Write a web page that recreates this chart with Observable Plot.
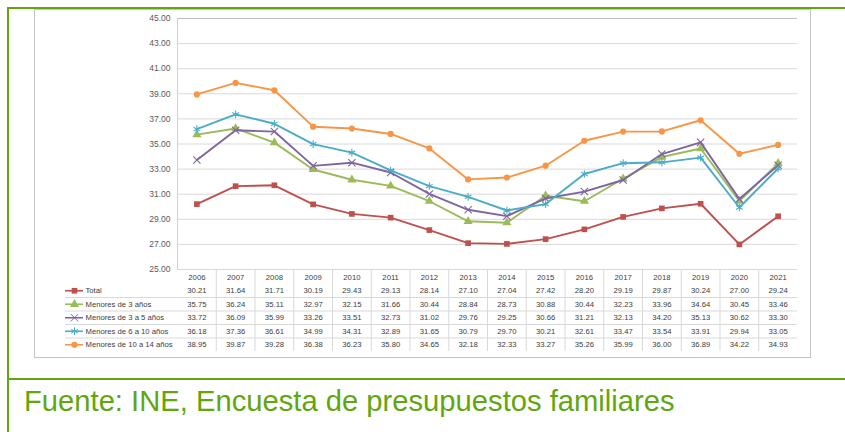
<!DOCTYPE html>
<html>
<head>
<meta charset="utf-8">
<script src="https://cdn.jsdelivr.net/npm/d3@7"></script>
<script src="https://cdn.jsdelivr.net/npm/@observablehq/plot@0.6"></script>
<style>
  html, body { margin: 0; padding: 0; background: #fff; }
  #wrap { position: relative; width: 845px; height: 432px; overflow: hidden; font-family: "Liberation Sans", Arial, sans-serif; }
  .g { position: absolute; background: #62a60f; }
  #box { position: absolute; left: 34px; top: 9px; width: 775px; height: 347px; border: 1px solid #c4c4c4; }
  #chart { position: absolute; left: 0; top: 0; }
  #table { position: absolute; left: 0; top: 269px; }
  #caption { position: absolute; left: 24px; top: 385px; font-size: 29.2px; color: #62a60f; white-space: nowrap; }
</style>
</head>
<body>
<div id="wrap">
  <div id="box"></div>
  <div class="g" style="left:7px;top:7px;width:838px;height:2px"></div>
  <div class="g" style="left:7px;top:7px;width:2px;height:425px"></div>
  <div class="g" style="left:7px;top:378px;width:838px;height:2px"></div>
  <div id="chart"></div>
  <div id="table"></div>
  <div id="caption">Fuente: INE, Encuesta de presupuestos familiares</div>
</div>
<script>
const years = [2006, 2007, 2008, 2009, 2010, 2011, 2012, 2013, 2014, 2015, 2016, 2017, 2018, 2019, 2020, 2021];
const seriesNames = ["Total", "Menores de 3 años", "Menores de 3 a 5 años", "Menores de 6 a 10 años", "Menores de 10 a 14 años"];
const total   = [30.21, 31.64, 31.71, 30.19, 29.43, 29.13, 28.14, 27.10, 27.04, 27.42, 28.20, 29.19, 29.87, 30.24, 27.00, 29.24];
const menores3   = [35.75, 36.24, 35.11, 32.97, 32.15, 31.66, 30.44, 28.84, 28.73, 30.88, 30.44, 32.23, 33.96, 34.64, 30.45, 33.46];
const menores3a5 = [33.72, 36.09, 35.99, 33.26, 33.51, 32.73, 31.02, 29.76, 29.25, 30.66, 31.21, 32.13, 34.20, 35.13, 30.62, 33.30];
const menores6a10 = [36.18, 37.36, 36.61, 34.99, 34.31, 32.89, 31.65, 30.79, 29.70, 30.21, 32.61, 33.47, 33.54, 33.91, 29.94, 33.05];
const menores10a14 = [38.95, 39.87, 39.28, 36.38, 36.23, 35.80, 34.65, 32.18, 32.33, 33.27, 35.26, 35.99, 36.00, 36.89, 34.22, 34.93];
const yTicks = [25, 27, 29, 31, 33, 35, 37, 39, 41, 43, 45];

const seriesValues = [total, menores3, menores3a5, menores6a10, menores10a14];
const colors = ["#c0504d", "#9bbb59", "#8064a2", "#4bacc6", "#f79646"];
const symbols = ["square", "triangle", "times", "asterisk", "circle"];
const filled = [true, true, false, false, true];
const sizes = [3.2, 3.4, 3.4, 3.6, 3.1];

const rows = [];
seriesValues.forEach((vals, s) => vals.forEach((v, i) => rows.push({serie: seriesNames[s], s, year: years[i], value: v})));

const fmt = d3.format(".2f");
const lineMarks = [];
seriesNames.forEach((name, s) => {
  const data = rows.filter(r => r.s === s);
  lineMarks.push(Plot.line(data, {x: "year", y: "value", stroke: colors[s], strokeWidth: 1.9}));
  lineMarks.push(Plot.dot(data, filled[s]
    ? {x: "year", y: "value", symbol: symbols[s], r: sizes[s], fill: colors[s], stroke: "none"}
    : {x: "year", y: "value", symbol: symbols[s], r: sizes[s], fill: "none", stroke: colors[s], strokeWidth: 1.1}));
});

const chart = Plot.plot({
  width: 845, height: 278,
  marginLeft: 177, marginRight: 48, marginTop: 18, marginBottom: 9,
  style: {background: "transparent", fontFamily: "'Liberation Sans', Arial, sans-serif"},
  x: {domain: [2005.5, 2021.5], axis: null},
  y: {domain: [25, 45], axis: null},
  marks: [
    Plot.ruleY(yTicks.slice(0, -1), {stroke: "#d9d9d9", strokeWidth: 1}),
    Plot.ruleY([45], {stroke: "#bdbdbd", strokeWidth: 1}),
    Plot.ruleX([2005.5], {stroke: "#d0d0d0", strokeWidth: 1}),
    ...lineMarks,
    Plot.axisY({ticks: yTicks, tickFormat: fmt, tickSize: 0, tickPadding: 7, label: null, fontSize: 8.5, color: "#595959"})
  ]
});
document.getElementById("chart").appendChild(chart);

// Data table under the chart
const cells = [];
years.forEach((yr, i) => cells.push({year: yr, row: 0, text: String(yr)}));
seriesValues.forEach((vals, s) => vals.forEach((v, i) => cells.push({year: years[i], row: s + 1, text: fmt(v)})));
const legend = seriesNames.map((name, s) => ({name, s, row: s + 1}));

const legendMarks = [];
legend.forEach(d => {
  legendMarks.push(Plot.ruleY([d], {x1: 2005.5, x2: 2005.5, y: r => r.row + 0.5, insetLeft: -112, insetRight: 94, stroke: colors[d.s], strokeWidth: 1.6}));
  legendMarks.push(Plot.dot([d], filled[d.s]
    ? {x: 2005.5, y: r => r.row + 0.5, dx: -103, symbol: symbols[d.s], r: sizes[d.s], fill: colors[d.s], stroke: "none"}
    : {x: 2005.5, y: r => r.row + 0.5, dx: -103, symbol: symbols[d.s], r: sizes[d.s], fill: "none", stroke: colors[d.s], strokeWidth: 1}));
});

const table = Plot.plot({
  width: 845, height: 85,
  marginLeft: 177, marginRight: 48, marginTop: 1, marginBottom: 3,
  style: {background: "transparent", fontFamily: "'Liberation Sans', Arial, sans-serif"},
  x: {domain: [2005.5, 2021.5], axis: null},
  y: {domain: [0, 6], reverse: true, axis: null},
  marks: [
    Plot.ruleX(years.slice(1).map(y => y - 0.5), {stroke: "#d9d9d9", strokeWidth: 1}),
    Plot.ruleY([2, 3, 4, 5], {x1: 2005.5, x2: 2021.5, insetLeft: -112, stroke: "#d9d9d9", strokeWidth: 1}),
    Plot.text(cells, {x: "year", y: d => d.row + 0.5, text: "text", fontSize: 7.7, fill: "#404040"}),
    ...legendMarks,
    Plot.text(legend, {x: 2005.5, y: d => d.row + 0.5, dx: -92, text: "name", textAnchor: "start", fontSize: 7.7, fill: "#404040"})
  ]
});
document.getElementById("table").appendChild(table);
</script>
</body>
</html>
